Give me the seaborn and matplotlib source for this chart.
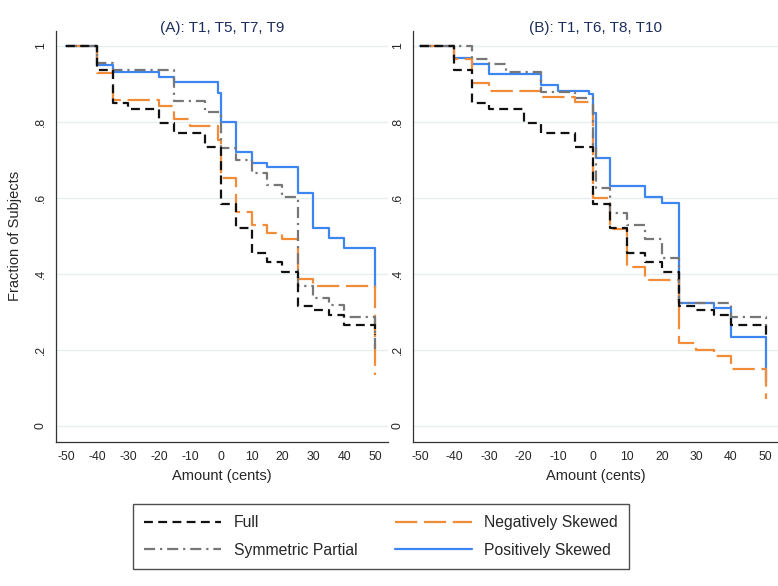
import matplotlib
matplotlib.use("Agg")
import matplotlib.pyplot as plt
import seaborn as sns
import pandas as pd
from matplotlib.lines import Line2D

sns.set_style("white")
plt.rcParams['font.family'] = ['Liberation Sans', 'DejaVu Sans']

# ---------------- data ----------------
panel_titles = ["(A): T1, T5, T7, T9", "(B): T1, T6, T8, T10"]
series_names = ["Full", "Symmetric Partial", "Negatively Skewed", "Positively Skewed"]

# Full (T1) - same in both panels
full_x = [-50, -40, -35, -30, -20, -15, -5, 0, 5, 10, 15, 20, 25, 30, 35, 40, 50]
full_y = [1.0, 0.936, 0.850, 0.834, 0.798, 0.771, 0.733, 0.583, 0.52, 0.456, 0.432, 0.406, 0.316, 0.305, 0.292, 0.266, 0.24]

# Panel A
a_sym_x = [-50, -40, -35, -15, -5, 0, 5, 10, 15, 20, 25, 30, 35, 40, 50]
a_sym_y = [1.0, 0.954, 0.936, 0.855, 0.825, 0.73, 0.70, 0.664, 0.634, 0.603, 0.367, 0.336, 0.318, 0.286, 0.20]
a_neg_x = [-50, -40, -35, -20, -15, -10, -1, 0, 5, 10, 15, 20, 25, 30, 50]
a_neg_y = [1.0, 0.929, 0.857, 0.841, 0.806, 0.789, 0.752, 0.651, 0.562, 0.529, 0.508, 0.491, 0.387, 0.368, 0.134]
a_pos_x = [-50, -40, -35, -20, -15, -1, 0, 5, 10, 15, 25, 30, 35, 40, 50]
a_pos_y = [1.0, 0.949, 0.932, 0.918, 0.904, 0.875, 0.80, 0.721, 0.692, 0.68, 0.612, 0.52, 0.494, 0.467, 0.362]

# Panel B
b_sym_x = [-50, -35, -30, -25, -15, -5, 0, 1, 5, 10, 15, 20, 25, 40, 50]
b_sym_y = [1.0, 0.964, 0.951, 0.93, 0.879, 0.862, 0.74, 0.627, 0.559, 0.528, 0.493, 0.441, 0.323, 0.287, 0.26]
b_neg_x = [-50, -40, -35, -30, -15, -5, 0, 5, 10, 15, 25, 30, 35, 40, 50]
b_neg_y = [1.0, 0.964, 0.901, 0.881, 0.866, 0.853, 0.60, 0.517, 0.419, 0.384, 0.217, 0.20, 0.184, 0.149, 0.07]
b_pos_x = [-50, -40, -35, -30, -15, -10, -1, 0, 1, 5, 15, 20, 25, 35, 40, 50]
b_pos_y = [1.0, 0.968, 0.953, 0.926, 0.897, 0.881, 0.872, 0.822, 0.704, 0.632, 0.603, 0.587, 0.323, 0.31, 0.235, 0.116]

x_ticks = [-50, -40, -30, -20, -10, 0, 10, 20, 30, 40, 50]
y_ticks = [0, 0.2, 0.4, 0.6, 0.8, 1.0]
y_ticklabels = ["0", ".2", ".4", ".6", ".8", "1"]

panels = [
    {"Full": (full_x, full_y), "Symmetric Partial": (a_sym_x, a_sym_y),
     "Negatively Skewed": (a_neg_x, a_neg_y), "Positively Skewed": (a_pos_x, a_pos_y)},
    {"Full": (full_x, full_y), "Symmetric Partial": (b_sym_x, b_sym_y),
     "Negatively Skewed": (b_neg_x, b_neg_y), "Positively Skewed": (b_pos_x, b_pos_y)},
]

# ---------------- styles ----------------
LW = 1.6
styles = {
    "Full": dict(color="#111111", dashes=(4.0, 2.4)),
    "Symmetric Partial": dict(color="#777777", dashes=(5.0, 2.2, 1.0, 2.2)),
    "Negatively Skewed": dict(color="#F28C38", dashes=(10.0, 3.0)),
    "Positively Skewed": dict(color="#3D85F0", dashes=None),
}
draw_order = ["Positively Skewed", "Negatively Skewed", "Symmetric Partial", "Full"]

W, H = 778, 586
fig = plt.figure(figsize=(W / 100, H / 100), dpi=100)

axes_px = [(56, 388), (413, 778)]
xlims = [(-53.4, 54.2), (-52.0, 53.6)]
top_px, bot_px = 30.5, 442

for i, (l, r) in enumerate(axes_px):
    ax = fig.add_axes([l / W, (H - bot_px) / H, (r - l) / W, (bot_px - top_px) / H])
    for name in draw_order:
        xs, ys = panels[i][name]
        df = pd.DataFrame({"Amount": xs, "Fraction": ys})
        st = styles[name]
        kw = dict(color=st["color"], lw=LW, drawstyle="steps-post")
        if st["dashes"] is not None:
            kw["dashes"] = st["dashes"]
        sns.lineplot(data=df, x="Amount", y="Fraction", ax=ax, estimator=None,
                     sort=False, legend=False, **kw)
    ax.set_xlim(*xlims[i])
    ax.set_ylim(-0.042, 1.04)
    ax.set_xticks(x_ticks)
    ax.set_xticklabels([str(t) for t in x_ticks], fontsize=8.8)
    ax.set_yticks(y_ticks)
    ax.set_yticklabels(y_ticklabels, fontsize=8.8, rotation=90, va="center")
    ax.yaxis.grid(True, color="#E6EEEF", lw=1.0)
    ax.xaxis.grid(False)
    ax.set_axisbelow(True)
    for s in ["top", "right"]:
        ax.spines[s].set_visible(False)
    for s in ["left", "bottom"]:
        ax.spines[s].set_color("#333333")
        ax.spines[s].set_linewidth(0.9)
    ax.tick_params(axis="both", direction="out", length=4.5, width=0.8, color="#333333", pad=2)
    ax.set_xlabel("Amount (cents)", fontsize=10.5, labelpad=4)
    if i == 0:
        ax.set_ylabel("Fraction of Subjects", fontsize=10.5, labelpad=9)
    else:
        ax.set_ylabel("")
    ax.set_title(panel_titles[i], fontsize=11, color="#1C2D5B", pad=-1)

handles = []
for name in series_names:
    st = styles[name]
    ln = Line2D([0], [0], color=st["color"], lw=LW)
    if st["dashes"] is not None:
        ln.set_dashes(st["dashes"])
    handles.append(ln)

leg = fig.legend(handles, series_names, loc="center", bbox_to_anchor=(0.49, 0.0845),
                 ncol=2, fontsize=11.3, frameon=True, fancybox=False, edgecolor="#222222",
                 handlelength=4.9, handletextpad=0.8, columnspacing=2.4,
                 labelspacing=0.8, borderpad=0.7)
leg.get_frame().set_linewidth(1.0)

fig.savefig("out.png", dpi=100)
